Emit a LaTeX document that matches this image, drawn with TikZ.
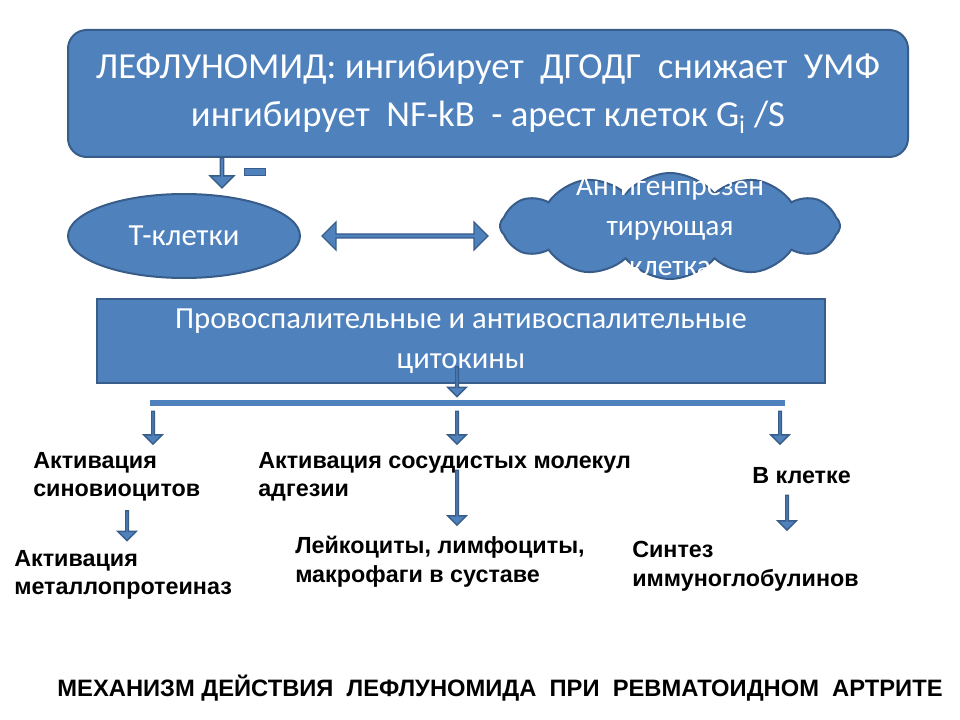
\documentclass[tikz,border=0pt]{standalone}
\usepackage{fontspec}
\setmainfont{Carlito}
\newfontfamily\arialf{Liberation Sans}
\usetikzlibrary{shapes.arrows,shapes.symbols,shapes.geometric}
\definecolor{bfill}{HTML}{4F81BD}
\definecolor{bdraw}{HTML}{385D8A}
\tikzset{
 bshape/.style={fill=bfill,draw=bdraw,line width=1.5pt,text=white},
 darr/.style={single arrow,fill=bfill,draw=bdraw,line width=1pt,shape border rotate=270,minimum width=18pt,single arrow head extend=3pt,inner sep=0pt},
 lbl/.style={font=\arialf\bfseries\fontsize{17.5}{21.5}\selectfont,align=left,anchor=north west,inner sep=0pt}
}
\begin{document}
\begin{tikzpicture}[x=0.75pt,y=-0.75pt]
\useasboundingbox (0,0) rectangle (960,720);
\node[bshape,rounded corners=14pt,minimum width=840*0.75pt,minimum height=127*0.75pt,font=\fontsize{27.5}{36}\selectfont,align=center] (top) at (488,93.5) {ЛЕФЛУНОМИД: ингибирует\ \ ДГОДГ\ \ снижает\ \ УМФ\\ингибирует\ \ NF-kB\ \ - арест клеток G\textsubscript{i} /S};
\node[darr,minimum height=30*0.75pt] (a0) at (222,172) {};
\node[bshape,line width=1pt,minimum width=21*0.75pt,minimum height=7*0.75pt,inner sep=0pt] (minus) at (255,172) {};
\node[bshape,ellipse,minimum width=232*0.75pt,minimum height=84*0.75pt,font=\fontsize{23}{26}\selectfont] (t) at (184,236) {Т-клетки};
\node[double arrow,fill=bfill,draw=bdraw,line width=1pt,minimum width=28*0.75pt,minimum height=166*0.75pt,double arrow head extend=3pt,inner sep=0pt] (dbl) at (405,236) {};
\node[bshape,cloud,cloud puffs=12,cloud puff arc=100,minimum width=340*0.75pt,minimum height=106*0.75pt,aspect=3.3,inner sep=0pt] (apc) at (670,226) {};
\node[text=white,font=\fontsize{22}{30}\selectfont,align=center] (apct) at (apc.center) {Антигенпрезен\\тирующая\\клетка};
\node[bshape,minimum width=728*0.75pt,minimum height=84*0.75pt,font=\fontsize{23}{30}\selectfont,align=center] (cyt) at (461,341) {Провоспалительные и антивоспалительные\\цитокины};
\node[darr,minimum height=30*0.75pt,minimum width=14pt] (a1) at (457,381) {};
\coordinate (hl) at (150,403); \coordinate (hr) at (785,403);
\draw[bfill,line width=4.5pt] (hl) -- (hr);
\foreach \x/\n in {153/b1,457/b2,780/b3}{\node[darr,minimum height=33*0.75pt,minimum width=14pt] (\n) at (\x,427) {};}
\node[lbl] (s1) at (33,452) {Активация\\синовиоцитов};
\node[lbl] (s2) at (258,452) {Активация сосудистых молекул\\адгезии};
\node[lbl] (s3) at (752,467) {В клетке};
\node[darr,minimum height=30*0.75pt,minimum width=14pt] (c1) at (127,525) {};
\node[darr,minimum height=55*0.75pt,minimum width=14pt] (c2) at (457,497) {};
\node[darr,minimum height=35*0.75pt,minimum width=14pt] (c3) at (787,512) {};
\node[lbl] (r1) at (14,550) {Активация\\металлопротеиназ};
\node[lbl] (r2) at (295,536) {Лейкоциты, лимфоциты,\\макрофаги в суставе};
\node[lbl] (r3) at (632,541) {Синтез\\иммуноглобулинов};
\node[font=\arialf\bfseries\fontsize{17.8}{21}\selectfont] (title) at (500,688) {МЕХАНИЗМ ДЕЙСТВИЯ\ \ ЛЕФЛУНОМИДА\ \ ПРИ\ \ РЕВМАТОИДНОМ\ \ АРТРИТЕ};
\end{tikzpicture}
\end{document}
